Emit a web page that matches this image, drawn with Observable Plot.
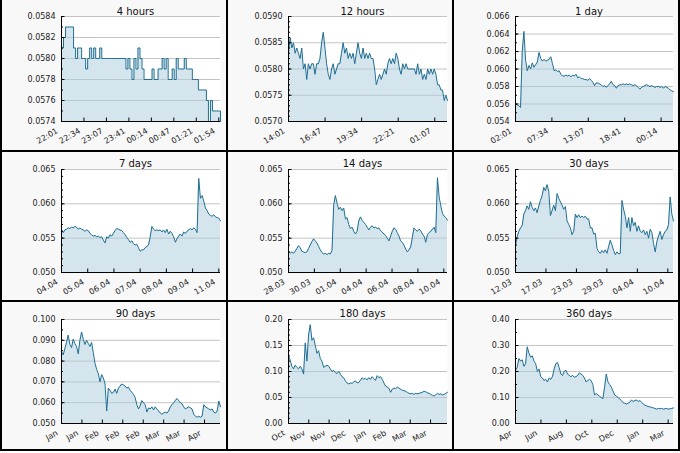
<!DOCTYPE html>
<html><head><meta charset="utf-8">
<script src="https://cdn.jsdelivr.net/npm/d3@7"></script>
<script src="https://cdn.jsdelivr.net/npm/@observablehq/plot@0.6"></script>
<style>
html,body{margin:0;padding:0;background:#fff;}
#grid{display:grid;grid-template-columns:224px 224px 224px;grid-template-rows:150px 148px 147px;gap:2px;background:#000;padding:0 2px 2px 2px;width:680px;box-sizing:border-box;}
.cell{background:#f8f8f8;overflow:hidden;}
.cell svg{display:block;}
</style></head><body><div id="grid"></div>
<script>
const titles = ["4 hours","12 hours","1 day","7 days","14 days","30 days","90 days","180 days","360 days"];

const v4h = [0.0581,0.0582,0.0583,0.0583,0.0583,0.0583,0.0581,0.0580,0.0581,0.0581,
 0.0580,0.0580,0.0579,0.0580,0.0581,0.0580,0.0581,0.0580,0.0580,0.0581,
 0.0580,0.0580,0.0580,0.0580,0.0580,0.0580,0.0580,0.0580,0.0580,0.0580,
 0.0580,0.0580,0.0579,0.0580,0.0579,0.0578,0.0580,0.0579,0.0581,0.0580,
 0.0579,0.0578,0.0578,0.0578,0.0578,0.0579,0.0578,0.0578,0.0579,0.0579,
 0.0580,0.0579,0.0580,0.0578,0.0578,0.0579,0.0578,0.0580,0.0579,0.0579,
 0.0579,0.0580,0.0579,0.0579,0.0579,0.0578,0.0578,0.0578,0.0577,0.0577,
 0.0577,0.0577,0.0576,0.0574,0.0576,0.0575,0.0575,0.0575,0.0575,0.0574];

const v12h = [0.0583,0.0586,0.0584,0.0585,0.0583,0.0584,0.0583,0.0582,0.0584,0.0580,
 0.0581,0.0578,0.0581,0.0580,0.0581,0.0581,0.0579,0.0581,0.0581,0.0582,
 0.0585,0.0587,0.0584,0.0581,0.0579,0.0578,0.0580,0.0581,0.0579,0.0580,
 0.0581,0.0581,0.0583,0.0585,0.0583,0.0584,0.0582,0.0583,0.0582,0.0583,
 0.0581,0.0583,0.0585,0.0583,0.0582,0.0584,0.0582,0.0583,0.0582,0.0583,
 0.0582,0.0582,0.0580,0.0577,0.0578,0.0579,0.0578,0.0579,0.0580,0.0579,
 0.0581,0.0582,0.0581,0.0582,0.0581,0.0583,0.0582,0.0580,0.0579,0.0581,
 0.0580,0.0581,0.0580,0.0580,0.0580,0.0580,0.0580,0.0579,0.0581,0.0579,
 0.0580,0.0578,0.0579,0.0578,0.0580,0.0579,0.0580,0.0579,0.0580,0.0579,
 0.0577,0.0577,0.0576,0.0576,0.0574,0.0575,0.0574];

const v1d = [0.0560,0.0559,0.0558,0.0556,0.0620,0.0643,0.0610,0.0598,0.0604,0.0600,
 0.0607,0.0602,0.0605,0.0608,0.0619,0.0612,0.0609,0.0611,0.0609,0.0610,
 0.0611,0.0614,0.0606,0.0598,0.0599,0.0597,0.0598,0.0594,0.0592,0.0592,
 0.0593,0.0592,0.0593,0.0591,0.0593,0.0592,0.0594,0.0590,0.0591,0.0589,
 0.0589,0.0588,0.0588,0.0587,0.0589,0.0587,0.0585,0.0581,0.0584,0.0584,
 0.0583,0.0582,0.0580,0.0581,0.0579,0.0581,0.0583,0.0586,0.0582,0.0581,
 0.0578,0.0581,0.0582,0.0582,0.0583,0.0582,0.0583,0.0582,0.0583,0.0582,
 0.0581,0.0582,0.0581,0.0579,0.0577,0.0579,0.0580,0.0581,0.0582,0.0581,
 0.0580,0.0581,0.0580,0.0579,0.0580,0.0580,0.0579,0.0580,0.0578,0.0580,
 0.0579,0.0578,0.0576,0.0575,0.0574];

const v7d = [0.0563,0.0558,0.0562,0.0563,0.0565,0.0564,0.0566,0.0565,0.0567,0.0566,
 0.0563,0.0565,0.0563,0.0562,0.0560,0.0562,0.0561,0.0557,0.0555,0.0553,
 0.0554,0.0552,0.0553,0.0551,0.0552,0.0547,0.0543,0.0552,0.0550,0.0555,
 0.0553,0.0557,0.0561,0.0564,0.0563,0.0562,0.0561,0.0558,0.0555,0.0551,
 0.0548,0.0544,0.0546,0.0542,0.0540,0.0541,0.0536,0.0531,0.0533,0.0533,
 0.0536,0.0538,0.0540,0.0552,0.0567,0.0563,0.0561,0.0562,0.0561,0.0562,
 0.0559,0.0562,0.0558,0.0563,0.0556,0.0560,0.0557,0.0552,0.0544,0.0549,
 0.0553,0.0556,0.0553,0.0559,0.0557,0.0560,0.0562,0.0564,0.0562,0.0565,
 0.0563,0.0558,0.0637,0.0608,0.0612,0.0604,0.0594,0.0590,0.0585,0.0583,
 0.0582,0.0584,0.0581,0.0580,0.0579,0.0575];

const v14d = [0.0530,0.0528,0.0530,0.0528,0.0531,0.0535,0.0539,0.0536,0.0531,0.0530,
 0.0529,0.0530,0.0535,0.0540,0.0545,0.0549,0.0546,0.0543,0.0538,0.0533,
 0.0529,0.0527,0.0528,0.0526,0.0528,0.0527,0.0532,0.0598,0.0612,0.0601,
 0.0592,0.0595,0.0590,0.0594,0.0578,0.0580,0.0570,0.0564,0.0566,0.0560,
 0.0556,0.0560,0.0575,0.0581,0.0576,0.0573,0.0570,0.0566,0.0562,0.0566,
 0.0568,0.0565,0.0566,0.0564,0.0565,0.0561,0.0559,0.0556,0.0554,0.0550,
 0.0546,0.0553,0.0560,0.0565,0.0563,0.0558,0.0553,0.0546,0.0544,0.0540,
 0.0534,0.0530,0.0533,0.0537,0.0551,0.0565,0.0562,0.0560,0.0563,0.0561,
 0.0556,0.0553,0.0544,0.0555,0.0558,0.0560,0.0563,0.0566,0.0558,0.0638,
 0.0610,0.0597,0.0586,0.0582,0.0580,0.0576];

const v30d = [0.0540,0.0552,0.0560,0.0565,0.0568,0.0585,0.0590,0.0597,0.0592,0.0603,
 0.0595,0.0590,0.0594,0.0587,0.0597,0.0605,0.0612,0.0624,0.0619,0.0628,
 0.0618,0.0583,0.0590,0.0598,0.0590,0.0615,0.0608,0.0603,0.0598,0.0592,
 0.0596,0.0575,0.0570,0.0565,0.0555,0.0560,0.0585,0.0580,0.0584,0.0580,
 0.0582,0.0580,0.0582,0.0578,0.0578,0.0565,0.0565,0.0556,0.0557,0.0535,
 0.0530,0.0528,0.0532,0.0529,0.0533,0.0528,0.0538,0.0547,0.0540,0.0532,
 0.0526,0.0530,0.0527,0.0528,0.0605,0.0592,0.0582,0.0565,0.0580,0.0560,
 0.0580,0.0568,0.0573,0.0560,0.0568,0.0560,0.0558,0.0562,0.0555,0.0560,
 0.0550,0.0563,0.0558,0.0542,0.0530,0.0545,0.0553,0.0560,0.0548,0.0555,
 0.0560,0.0562,0.0570,0.0610,0.0585,0.0575];

const v90d = [0.0845,0.0830,0.0860,0.0890,0.0925,0.0880,0.0865,0.0905,0.0885,0.0870,
 0.0835,0.0900,0.0940,0.0905,0.0880,0.0900,0.0885,0.0870,0.0890,0.0840,
 0.0790,0.0760,0.0740,0.0700,0.0735,0.0720,0.0690,0.0560,0.0670,0.0660,
 0.0645,0.0650,0.0665,0.0645,0.0670,0.0680,0.0690,0.0685,0.0680,0.0670,
 0.0675,0.0660,0.0650,0.0640,0.0625,0.0590,0.0570,0.0585,0.0610,0.0600,
 0.0590,0.0555,0.0575,0.0570,0.0580,0.0565,0.0580,0.0570,0.0560,0.0550,
 0.0545,0.0550,0.0555,0.0550,0.0560,0.0580,0.0590,0.0600,0.0610,0.0620,
 0.0610,0.0600,0.0595,0.0580,0.0570,0.0575,0.0580,0.0575,0.0570,0.0545,
 0.0535,0.0530,0.0535,0.0530,0.0535,0.0590,0.0580,0.0575,0.0570,0.0565,
 0.0570,0.0555,0.0550,0.0560,0.0608,0.0580];

const v180d = [0.130,0.122,0.110,0.105,0.112,0.108,0.105,0.110,0.105,0.095,
 0.155,0.120,0.170,0.190,0.160,0.165,0.150,0.135,0.140,0.125,
 0.120,0.108,0.110,0.112,0.110,0.105,0.100,0.102,0.098,0.096,
 0.100,0.095,0.090,0.088,0.082,0.078,0.076,0.078,0.077,0.080,
 0.082,0.078,0.079,0.083,0.088,0.085,0.087,0.084,0.088,0.085,
 0.090,0.086,0.083,0.092,0.088,0.090,0.085,0.078,0.072,0.070,
 0.068,0.060,0.066,0.068,0.067,0.070,0.068,0.066,0.064,0.063,
 0.062,0.060,0.058,0.057,0.058,0.056,0.058,0.057,0.058,0.059,
 0.060,0.062,0.061,0.059,0.058,0.056,0.054,0.053,0.055,0.058,
 0.056,0.057,0.055,0.056,0.058,0.060];

const v360d = [0.205,0.215,0.250,0.240,0.245,0.220,0.230,0.295,0.270,0.255,
 0.260,0.240,0.230,0.200,0.210,0.180,0.175,0.165,0.170,0.160,
 0.175,0.170,0.180,0.210,0.230,0.235,0.215,0.190,0.185,0.200,
 0.205,0.190,0.185,0.180,0.185,0.178,0.180,0.185,0.195,0.190,
 0.185,0.175,0.160,0.165,0.170,0.165,0.150,0.110,0.115,0.110,
 0.105,0.100,0.095,0.140,0.190,0.160,0.150,0.140,0.125,0.110,
 0.105,0.100,0.095,0.088,0.080,0.078,0.075,0.078,0.082,0.090,
 0.085,0.088,0.090,0.085,0.088,0.082,0.075,0.070,0.068,0.065,
 0.064,0.062,0.060,0.058,0.055,0.058,0.057,0.058,0.055,0.057,
 0.058,0.055,0.057,0.058,0.060];

const xLabels4h = ["22:01","22:34","23:07","23:41","00:14","00:47","01:21","01:54"];
const xLabels12h = ["14:01","16:47","19:34","22:21","01:07"];
const xLabels1d = ["02:01","07:34","13:07","18:41","00:14"];
const xLabels7d = ["04.04","05.04","06.04","07.04","08.04","09.04","11.04"];
const xLabels14d = ["28.03","30.03","01.04","04.04","06.04","08.04","10.04"];
const xLabels30d = ["12.03","17.03","23.03","29.03","04.04","10.04"];
const xLabels90d = ["Jan","Jan","Feb","Feb","Feb","Mar","Mar","Apr"];
const xLabels180d = ["Oct","Nov","Nov","Dec","Jan","Feb","Mar","Mar"];
const xLabels360d = ["Apr","Jun","Aug","Oct","Dec","Jan","Mar"];
// spacing between x ticks, as a share of each panel's time span
const xTickSteps = [0.1413,0.230,0.2304,0.1649,0.1628,0.1928,0.1285,0.1276,0.161];

const yTicks4h = [0.0574,0.0576,0.0578,0.0580,0.0582,0.0584];
const yTicks12h = [0.0570,0.0575,0.0580,0.0585,0.0590];
const yTicks1d = [0.054,0.056,0.058,0.060,0.062,0.064,0.066];
const yTicks7d = [0.050,0.055,0.060,0.065];
const yTicks14d = [0.050,0.055,0.060,0.065];
const yTicks30d = [0.050,0.055,0.060,0.065];
const yTicks90d = [0.050,0.060,0.070,0.080,0.090,0.100];
const yTicks180d = [0.00,0.05,0.10,0.15,0.20];
const yTicks360d = [0.00,0.10,0.20,0.30,0.40];
const yMinorSteps = [0.0001,0.0001,0.001,0.001,0.001,0.001,0.005,0.01,0.05];
const yDecimals = [4,4,3,3,3,3,3,2,2];

const valuesAll = [v4h,v12h,v1d,v7d,v14d,v30d,v90d,v180d,v360d];
const xLabelsAll = [xLabels4h,xLabels12h,xLabels1d,xLabels7d,xLabels14d,xLabels30d,xLabels90d,xLabels180d,xLabels360d];
const yTicksAll = [yTicks4h,yTicks12h,yTicks1d,yTicks7d,yTicks14d,yTicks30d,yTicks90d,yTicks180d,yTicks360d];

const colLeft=[59,60,61], colRight=[6,5,5];
const rowH=[150,148,147], rowTop=[16,17,17], rowBottom=[29,28,26];
const LINE="#1f6e92", FILL="#a9cbdd", GRID="#c4c4c4";
const grid=document.getElementById("grid");

titles.forEach((title,i)=>{
  const c=i%3, r=Math.floor(i/3);
  const W=224, H=rowH[r];
  const ml=colLeft[c], mr=colRight[c], mt=rowTop[r], mb=rowBottom[r];
  const pw=W-ml-mr, ph=H-mt-mb;
  const vals=valuesAll[i];
  const data=vals.map((v,k)=>({t:k/(vals.length-1), v}));
  const yt=yTicksAll[i];
  const y0=yt[0], y1=yt[yt.length-1];
  const ms=yMinorSteps[i];
  const minor=d3.range(Math.round((y1-y0)/ms)+1).map(k=>y0+k*ms);
  const labels=xLabelsAll[i];
  const xt=labels.map((_,k)=>k*xTickSteps[i]);
  const xTickData=xt.map((t,k)=>({t,label:labels[k]}));
  const curve = i===0 ? "step-after" : "linear";
  const svg=Plot.plot({
    width:W,height:H,marginLeft:ml,marginRight:mr,marginTop:mt,marginBottom:mb,
    style:{background:"transparent",fontFamily:"DejaVu Sans, sans-serif",fontSize:"8px",color:"#222",overflow:"visible"},
    x:{domain:[0,1],axis:null},
    y:{domain:[y0,y1],axis:null},
    marks:[
      Plot.frame({fill:"white",stroke:null}),
      Plot.gridY(yt,{stroke:GRID,strokeOpacity:1}),
      Plot.areaY(data,{x:"t",y1:y0,y2:"v",fill:FILL,fillOpacity:0.5,curve}),
      Plot.lineY(data,{x:"t",y:"v",stroke:LINE,strokeWidth:1,curve}),
      Plot.ruleX([0],{stroke:"#000"}),
      Plot.ruleY([y0],{stroke:"#000"}),
      Plot.tickY(minor,{y:d=>d,insetRight:pw-2,stroke:"#000"}),
      Plot.tickY(yt,{y:d=>d,insetRight:pw-3.5,stroke:"#000"}),
      Plot.tickX(xt,{x:d=>d,insetTop:ph-3.5,stroke:"#000"}),
      Plot.axisY(yt,{tickSize:0,tickPadding:6,label:null,tickFormat:d=>d.toFixed(yDecimals[i])}),
      Plot.text(xTickData,{x:"t",frameAnchor:"bottom",text:"label",rotate:-30,textAnchor:"end",lineAnchor:"bottom",dx:-3,dy:11,fill:"#222"}),
      Plot.text([title],{frameAnchor:"top",dy:-(mt-7.5),dx:-5.5,fontSize:10,fill:"#111"})
    ]
  });
  const cell=document.createElement("div");
  cell.className="cell";
  cell.appendChild(svg);
  grid.appendChild(cell);
});
</script>
</body></html>
